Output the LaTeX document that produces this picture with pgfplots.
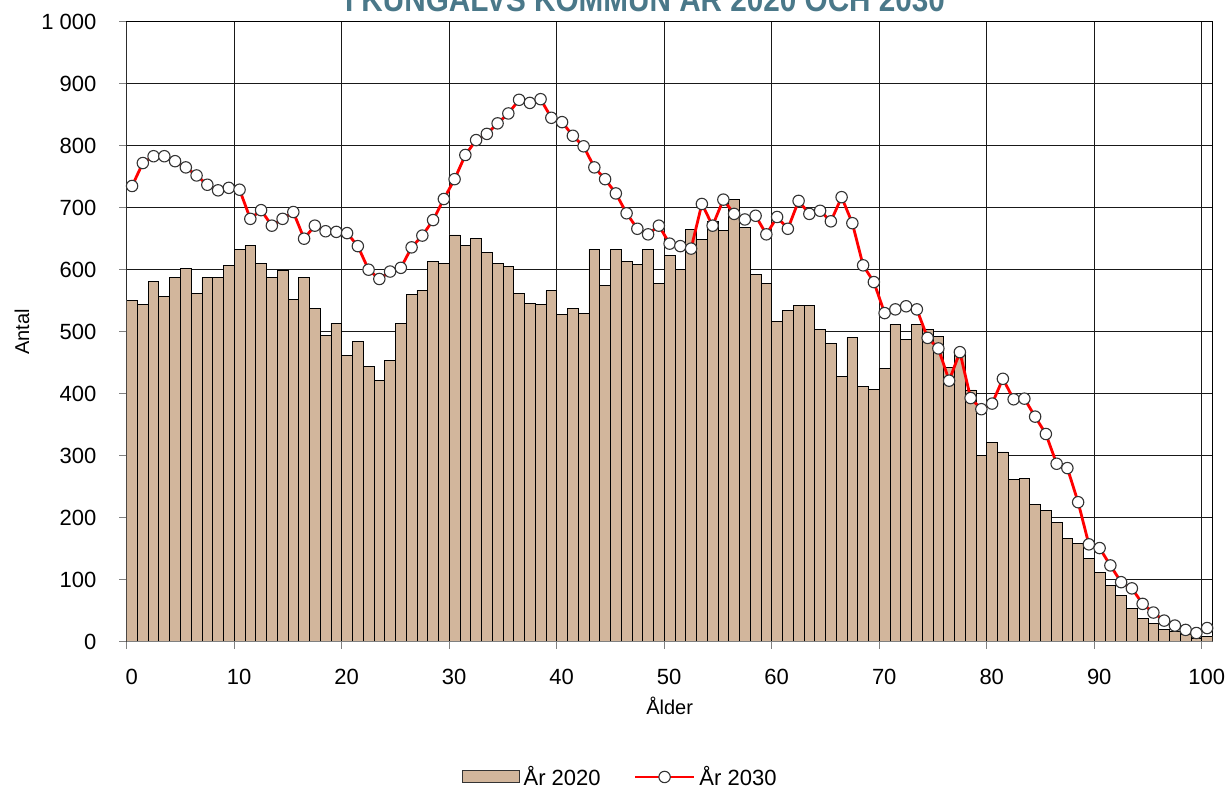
\documentclass[border=0pt]{standalone}
\usepackage{pgfplots}
\usepackage{pgfplotstable}
\usepackage{fontspec}
\setmainfont{Liberation Sans}
\pgfplotsset{compat=1.18}
\definecolor{barcol}{RGB}{210,182,156}
\definecolor{titlecol}{RGB}{74,120,137}
\pgfplotstableread{
age a b
0 551 735
1 544 772
2 581 783
3 557 783
4 588 775
5 602 765
6 562 752
7 587 737
8 588 728
9 607 732
10 633 729
11 639 682
12 610 696
13 588 671
14 599 682
15 552 693
16 587 650
17 538 671
18 494 662
19 514 661
20 462 659
21 484 638
22 444 600
23 421 585
24 453 597
25 514 603
26 560 636
27 567 655
28 614 680
29 610 714
30 656 746
31 639 785
32 651 809
33 628 819
34 610 836
35 605 852
36 561 874
37 546 869
38 544 875
39 566 845
40 528 838
41 537 816
42 530 799
43 633 765
44 574 746
45 633 723
46 613 691
47 609 666
48 633 657
49 578 671
50 623 642
51 600 638
52 665 634
53 649 706
54 678 671
55 664 713
56 714 690
57 668 681
58 592 687
59 578 657
60 517 685
61 534 666
62 542 711
63 542 690
64 504 695
65 481 678
66 427 717
67 491 675
68 411 607
69 407 580
70 440 530
71 512 536
72 488 541
73 512 536
74 504 490
75 493 473
76 442 421
77 465 467
78 406 393
79 300 375
80 322 384
81 306 424
82 261 391
83 263 392
84 222 363
85 211 335
86 193 287
87 167 280
88 159 225
89 134 157
90 111 151
91 91 123
92 74 96
93 53 86
94 38 61
95 30 47
96 19 34
97 16 26
98 11 19
99 5 14
100 9 22
}\data
\begin{document}
\begin{tikzpicture}
\useasboundingbox (-63.35pt,-74.15pt) rectangle (552.65pt,320.85pt);
\begin{axis}[
  at={(0pt,0pt)}, anchor=south west,
  scale only axis,
  width=542.9pt, height=310pt,
  xmin=0, xmax=101, ymin=0, ymax=1000,
  xtick={0,10,...,100}, ytick={0,100,...,1000},
  grid=major,
  major grid style={black!90, line width=0.5pt},
  axis line style={black, line width=0.5pt},
  tick pos=left, tick align=outside,
  major tick length=3.6pt,
  tick style={gray, line width=0.5pt},
  /pgf/number format/assume math mode=true,
  /pgf/number format/1000 sep={\ },
  tick label style={font=\fontsize{11}{13}\selectfont},
  xticklabel style={anchor=base, inner sep=0pt, yshift=-17.6pt, xshift=2.5pt},
  yticklabel style={anchor=east, inner sep=0pt, xshift=-11.35pt},
  xlabel={Ålder}, ylabel={Antal},
  label style={font=\fontsize{11}{13}\selectfont},
  every axis x label/.style={at={([yshift=-32.15pt]axis description cs:0.5,0)}, anchor=center},
  every axis y label/.style={at={([xshift=-52.35pt]axis description cs:0,0.5)}, anchor=center, rotate=90},
  legend columns=2,
  legend style={at={(axis description cs:0.4553,-0.2182)}, anchor=center, draw=none, fill=none,
    font=\fontsize{11}{13}\selectfont, inner sep=0pt},
  /tikz/every even column/.append style={column sep=14.5pt},
]
\addplot[ybar, bar width=1, bar shift=0pt, fill=barcol, draw=black, line width=0.45pt,
  legend image code/.code={\draw[fill=barcol, draw=black!80, line width=0.5pt] (0pt,-3pt) rectangle (28.5pt,3pt);}]
  table[x expr=\thisrow{age}+0.5, y=a]{\data};
\addlegendentry{År 2020}
\addplot[red, line width=1.4pt, mark=*, mark size=2.85pt,
  mark options={fill=white, draw=black!80, line width=0.55pt},
  legend image code/.code={\draw[red, line width=1.4pt] (0pt,0pt) -- (29.5pt,0pt);
    \draw[fill=white, draw=black!80, line width=0.55pt] (14.75pt,0pt) circle (2.85pt);}]
  table[x expr=\thisrow{age}+0.5, y=b]{\data};
\addlegendentry{År 2030}
\draw[gray, line width=0.6pt] (rel axis cs:0,0) -- (rel axis cs:0,1);
\draw[gray, line width=0.6pt] (rel axis cs:0,0) -- (rel axis cs:1,0);
\end{axis}
\node[anchor=base, text=titlecol, font=\fontsize{17}{20}\selectfont\bfseries, inner sep=0pt]
  at (259.15pt,315.1pt) {\resizebox{300pt}{\height}{I KUNGÄLVS KOMMUN ÅR 2020 OCH 2030}};
\end{tikzpicture}
\end{document}
